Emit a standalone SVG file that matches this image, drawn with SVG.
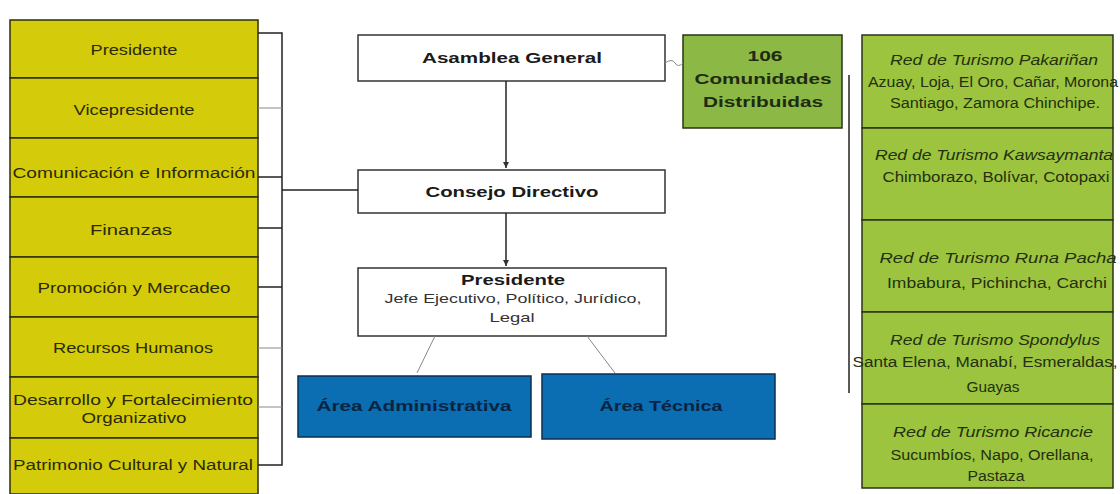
<svg xmlns="http://www.w3.org/2000/svg" width="1120" height="494" viewBox="0 0 1120 494">
<defs>
<style>
.yl{fill:#d4cc0a;stroke:#2e2e0a;stroke-width:1.5}
.wb{fill:#ffffff;stroke:#333333;stroke-width:1.5}
.gb{fill:#8cb846;stroke:#2a3318;stroke-width:1.5}
.rg{fill:#9cc43e;stroke:#2a3318;stroke-width:1.5}
.bl{fill:#0b6db2;stroke:#0a2f55;stroke-width:1.5}
text{font-family:"Liberation Sans",Arial,sans-serif;text-anchor:middle}
.lt{font-size:14px;fill:#2b2a05}
.ct{font-size:15px;font-weight:bold;fill:#1a1a1a}
.pt{font-size:13px;fill:#333333}
.gt{font-size:14px;font-weight:bold;fill:#1f2b10}
.rt{font-size:14px;fill:#24300f}
.ri{font-size:14px;font-style:italic;fill:#24300f}
.at{font-size:14px;font-weight:bold;fill:#0a2440}
.ln{stroke:#222222;stroke-width:1.5;fill:none}
.lg{stroke:#888888;stroke-width:1;fill:none}
</style>
<marker id="ah" markerWidth="8" markerHeight="8" refX="6" refY="4" orient="auto" markerUnits="userSpaceOnUse">
<path d="M0,1 L6,4 L0,7 z" fill="#333333"/>
</marker>
</defs>
<rect x="0" y="0" width="1120" height="494" fill="#ffffff"/>

<g id="left-column">
<g id="n-presidente-l"><rect class="yl" x="10" y="20" width="248" height="58"/><text class="lt" x="134" y="55" textLength="87" lengthAdjust="spacingAndGlyphs">Presidente</text></g>
<g id="n-vicepresidente"><rect class="yl" x="10" y="78" width="248" height="60"/><text class="lt" x="134" y="115" textLength="121" lengthAdjust="spacingAndGlyphs">Vicepresidente</text></g>
<g id="n-comunicacion"><rect class="yl" x="10" y="138" width="248" height="59"/><text class="lt" x="134" y="178" textLength="243" lengthAdjust="spacingAndGlyphs">Comunicación e Información</text></g>
<g id="n-finanzas"><rect class="yl" x="10" y="197" width="248" height="60"/><text class="lt" x="131" y="235" textLength="82" lengthAdjust="spacingAndGlyphs">Finanzas</text></g>
<g id="n-promocion"><rect class="yl" x="10" y="257" width="248" height="60"/><text class="lt" x="134" y="293" textLength="193" lengthAdjust="spacingAndGlyphs">Promoción y Mercadeo</text></g>
<g id="n-recursos"><rect class="yl" x="10" y="317" width="248" height="60"/><text class="lt" x="133" y="353" textLength="160" lengthAdjust="spacingAndGlyphs">Recursos Humanos</text></g>
<g id="n-desarrollo"><rect class="yl" x="10" y="377" width="248" height="61"/><text class="lt" x="133" y="405" textLength="240" lengthAdjust="spacingAndGlyphs">Desarrollo y Fortalecimiento</text><text class="lt" x="134" y="423" textLength="105" lengthAdjust="spacingAndGlyphs">Organizativo</text></g>
<g id="n-patrimonio"><rect class="yl" x="10" y="438" width="248" height="56"/><text class="lt" x="133" y="470" textLength="240" lengthAdjust="spacingAndGlyphs">Patrimonio Cultural y Natural</text></g>
</g>

<g id="n-asamblea"><rect class="wb" x="358" y="35" width="307" height="46"/><text class="ct" x="512" y="63" textLength="180" lengthAdjust="spacingAndGlyphs">Asamblea General</text></g>
<g id="n-comunidades"><rect class="gb" x="683" y="35" width="159" height="93"/><text class="gt" x="765" y="61" textLength="35" lengthAdjust="spacingAndGlyphs">106</text><text class="gt" x="763" y="84" textLength="137" lengthAdjust="spacingAndGlyphs">Comunidades</text><text class="gt" x="763" y="107" textLength="120" lengthAdjust="spacingAndGlyphs">Distribuidas</text></g>
<g id="n-consejo"><rect class="wb" x="358" y="170" width="307" height="43"/><text class="ct" x="512" y="197" textLength="173" lengthAdjust="spacingAndGlyphs">Consejo Directivo</text></g>
<g id="n-presidente"><rect class="wb" x="358" y="268" width="308" height="68"/><text class="ct" x="513" y="285" textLength="104" lengthAdjust="spacingAndGlyphs">Presidente</text><text class="pt" x="513" y="303" textLength="257" lengthAdjust="spacingAndGlyphs">Jefe Ejecutivo, Político, Jurídico,</text><text class="pt" x="512" y="322" textLength="45" lengthAdjust="spacingAndGlyphs">Legal</text></g>
<g id="n-area-admin"><rect class="bl" x="298" y="376" width="233" height="61"/><text class="at" x="414" y="411" textLength="195" lengthAdjust="spacingAndGlyphs">Área Administrativa</text></g>
<g id="n-area-tecnica"><rect class="bl" x="542" y="374" width="233" height="65"/><text class="at" x="661" y="411" textLength="123" lengthAdjust="spacingAndGlyphs">Área Técnica</text></g>

<g id="right-column">
<g id="n-pakarinan"><rect class="rg" x="862" y="35" width="251" height="93"/><text class="ri" x="994" y="65" textLength="208" lengthAdjust="spacingAndGlyphs">Red de Turismo Pakariñan</text><text class="rt" x="993" y="87" textLength="250" lengthAdjust="spacingAndGlyphs">Azuay, Loja, El Oro, Cañar, Morona</text><text class="rt" x="995" y="108" textLength="210" lengthAdjust="spacingAndGlyphs">Santiago, Zamora Chinchipe.</text></g>
<g id="n-kawsaymanta"><rect class="rg" x="862" y="128" width="251" height="92"/><text class="ri" x="994" y="160" textLength="238" lengthAdjust="spacingAndGlyphs">Red de Turismo Kawsaymanta</text><text class="rt" x="996" y="182" textLength="227" lengthAdjust="spacingAndGlyphs">Chimborazo, Bolívar, Cotopaxi</text></g>
<g id="n-runapacha"><rect class="rg" x="862" y="220" width="251" height="92"/><text class="ri" x="998" y="263" textLength="237" lengthAdjust="spacingAndGlyphs">Red de Turismo Runa Pacha</text><text class="rt" x="997" y="288" textLength="220" lengthAdjust="spacingAndGlyphs">Imbabura, Pichincha, Carchi</text></g>
<g id="n-spondylus"><rect class="rg" x="862" y="312" width="251" height="92"/><text class="ri" x="995" y="345" textLength="210" lengthAdjust="spacingAndGlyphs">Red de Turismo Spondylus</text><text class="rt" x="985" y="367" textLength="265" lengthAdjust="spacingAndGlyphs">Santa Elena, Manabí, Esmeraldas,</text><text class="rt" x="993" y="392" textLength="53" lengthAdjust="spacingAndGlyphs">Guayas</text></g>
<g id="n-ricancie"><rect class="rg" x="862" y="404" width="251" height="84"/><text class="ri" x="993" y="437" textLength="200" lengthAdjust="spacingAndGlyphs">Red de Turismo Ricancie</text><text class="rt" x="992" y="460" textLength="203" lengthAdjust="spacingAndGlyphs">Sucumbíos, Napo, Orellana,</text><text class="rt" x="996" y="481" textLength="57" lengthAdjust="spacingAndGlyphs">Pastaza</text></g>
</g>

<g id="connectors">
<path class="ln" d="M258,33 H282 V465 H258"/>
<path class="lg" d="M258,108 H282"/>
<path class="ln" d="M258,177 H282"/>
<path class="ln" d="M258,228 H282"/>
<path class="ln" d="M258,287 H282"/>
<path class="lg" d="M258,348 H282"/>
<path class="lg" d="M258,407 H282"/>
<path class="ln" d="M282,190 H358"/>
<path class="ln" d="M506,81 V168" marker-end="url(#ah)"/>
<path class="ln" d="M506,213 V266" marker-end="url(#ah)"/>
<path class="lg" d="M665,63 Q672,58 675,63 T683,63"/>
<path class="ln" d="M849,75 V393" stroke-width="2"/>
<path class="lg" d="M435,336 L417,373" stroke="#555555"/>
<path class="lg" d="M587,336 L615,373" stroke="#555555"/>
</g>
</svg>
